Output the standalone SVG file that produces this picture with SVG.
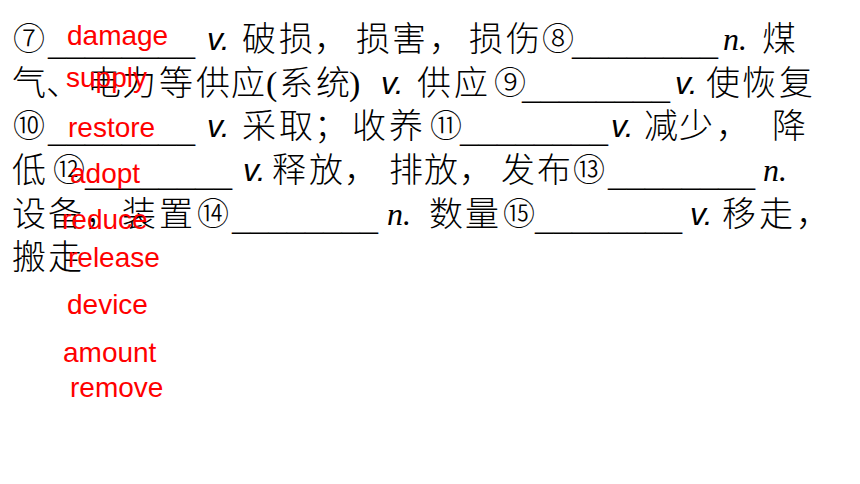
<svg xmlns="http://www.w3.org/2000/svg" width="860" height="484" viewBox="0 0 860 484">
<style>
.t{font-family:"Liberation Serif","Noto Sans CJK SC",serif;font-size:34px;fill:#000;font-weight:300}
.d{font-family:"Liberation Serif","Noto Sans CJK SC",serif;font-size:32px;fill:#000;font-weight:300}
.u{font-family:"Liberation Serif",serif;font-size:32px;fill:#000}
.v{font-family:"Liberation Sans",sans-serif;font-style:italic;font-size:32px;fill:#000}
.n{font-family:"Liberation Serif",serif;font-style:italic;font-size:32px;fill:#000}
.a{font-family:"Liberation Sans",Arial,sans-serif;font-size:28px;fill:#FF0000}
</style>
<rect width="860" height="484" fill="#fff"/>
<g id="question-text">
<g id="line1">
<text class="d" x="13" y="50">⑦</text>
<text class="u" x="48" y="55" textLength="147" lengthAdjust="spacingAndGlyphs">________</text>
<text class="v" x="207" y="50">v.</text>
<text class="t" x="242 279 314 356 392 429 469 506" y="51">破损，损害，损伤</text>
<text class="d" x="542" y="50">⑧</text>
<text class="u" x="572" y="55" textLength="146" lengthAdjust="spacingAndGlyphs">________</text>
<text class="n" x="723" y="50">n.</text>
<text class="t" x="762" y="51">煤</text>
</g>
<g id="line2">
<text class="t" x="12 46 87 122 159 196 231 266 279 316 349" y="95">气、电力等供应(系统)</text>
<text class="v" x="381" y="94">v.</text>
<text class="t" x="417 454" y="95">供应</text>
<text class="d" x="494" y="94">⑨</text>
<text class="u" x="522" y="99" textLength="148" lengthAdjust="spacingAndGlyphs">________</text>
<text class="v" x="675" y="94">v.</text>
<text class="t" x="706 742 779" y="95">使恢复</text>
</g>
<g id="line3">
<text class="d" x="13" y="137">⑩</text>
<text class="u" x="48" y="142" textLength="147" lengthAdjust="spacingAndGlyphs">________</text>
<text class="v" x="207" y="137">v.</text>
<text class="t" x="242 279 314 352 389" y="138">采取；收养</text>
<text class="d" x="430" y="137">⑪</text>
<text class="u" x="460" y="142" textLength="148" lengthAdjust="spacingAndGlyphs">________</text>
<text class="v" x="611" y="137">v.</text>
<text class="t" x="644 679 716 772" y="138">减少，降</text>
</g>
<g id="line4">
<text class="t" x="12" y="182">低</text>
<text class="d" x="53" y="181">⑫</text>
<text class="u" x="85" y="186" textLength="147" lengthAdjust="spacingAndGlyphs">________</text>
<text class="v" x="243" y="181">v.</text>
<text class="t" x="272 309 344 389 424 459 501 537" y="182">释放，排放，发布</text>
<text class="d" x="573" y="181">⑬</text>
<text class="u" x="608" y="186" textLength="147" lengthAdjust="spacingAndGlyphs">________</text>
<text class="n" x="763" y="181">n.</text>
</g>
<g id="line5">
<text class="t" x="12 48 85 122 159" y="226">设备，装置</text>
<text class="d" x="197" y="225">⑭</text>
<text class="u" x="232" y="230" textLength="146" lengthAdjust="spacingAndGlyphs">________</text>
<text class="n" x="387" y="225">n.</text>
<text class="t" x="429 465" y="226">数量</text>
<text class="d" x="503" y="225">⑮</text>
<text class="u" x="535" y="230" textLength="147" lengthAdjust="spacingAndGlyphs">________</text>
<text class="v" x="690" y="225">v.</text>
<text class="t" x="722 759 796" y="226">移走，</text>
</g>
<g id="line6">
<text class="t" x="12 48" y="269">搬走</text>
</g>
</g>
<g id="answers">
<text class="a" x="67" y="45">damage</text>
<text class="a" x="66" y="87">supply</text>
<text class="a" x="68" y="137">restore</text>
<text class="a" x="70" y="183">adopt</text>
<text class="a" x="62" y="229">reduce</text>
<text class="a" x="68" y="267">release</text>
<text class="a" x="67" y="314">device</text>
<text class="a" x="63" y="362">amount</text>
<text class="a" x="70" y="397">remove</text>
</g>
</svg>
